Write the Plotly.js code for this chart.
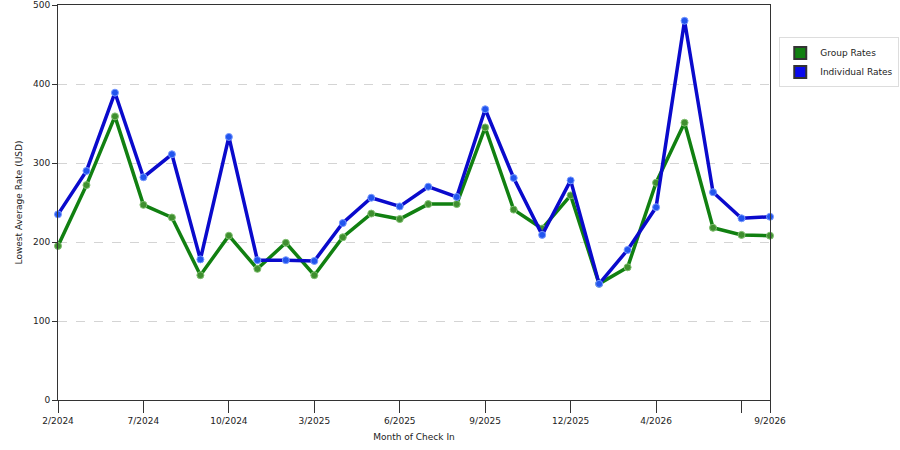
<!DOCTYPE html>
<html>
<head>
<meta charset="utf-8">
<script src="https://cdn.plot.ly/plotly-3.0.1.min.js"></script>
<style>html,body{margin:0;padding:0;background:#fff;}#chart{width:900px;height:450px;}</style>
</head>
<body>
<div id="chart"></div>
<script>
const months = ["2/2024","4/2024","5/2024","7/2024","8/2024","9/2024","10/2024","11/2024","1/2025","3/2025","4/2025","5/2025","6/2025","7/2025","8/2025","9/2025","10/2025","11/2025","12/2025","1/2026","3/2026","4/2026","5/2026","6/2026","8/2026","9/2026"];
const groupRates = [195,272,359,247,231,158,208,166,199,158,206,236,229,248,248,345,241,217,259,147,168,275,351,218,209,208];
const individualRates = [235,290,389,282,311,178,333,177,177,176,224,256,245,270,257,368,281,209,278,147,190,244,480,263,230,232];
const tickMonths = ["2/2024","7/2024","10/2024","3/2025","6/2025","9/2025","12/2025","4/2026","8/2026","9/2026"];
const tickLabels = ["2/2024","7/2024","10/2024","3/2025","6/2025","9/2025","12/2025","4/2026","","9/2026"];
const seriesNames = ["Group Rates","Individual Rates"];

const font = {family: "DejaVu Sans, Verdana, sans-serif", size: 9, color: "#222"};

const traces = [
  {x: months, y: groupRates, type: "scatter", mode: "lines+markers", name: seriesNames[0], showlegend: false,
   line: {color: "#118011", width: 3.5}, cliponaxis: false,
   marker: {size: 7, color: "#3f8f2f", line: {color: "#7fbf6f", width: 1}}},
  {x: months, y: individualRates, type: "scatter", mode: "lines+markers", name: seriesNames[1], showlegend: false,
   line: {color: "#0a0acc", width: 3.5}, cliponaxis: false,
   marker: {size: 7, color: "#2255ee", line: {color: "#7799ff", width: 1}}},
  {x: [null], y: [null], type: "bar", name: seriesNames[0], marker: {color: "#118011", line: {color: "#333", width: 1}}},
  {x: [null], y: [null], type: "bar", name: seriesNames[1], marker: {color: "#0a0aee", line: {color: "#333", width: 1}}}
];

const layout = {
  width: 900, height: 450,
  margin: {l: 58, r: 130, t: 5, b: 50, autoexpand: false},
  paper_bgcolor: "#fff", plot_bgcolor: "#fff",
  font: font,
  showlegend: true,
  legend: {x: 1.013, y: 0.918, xanchor: "left", yanchor: "top", bgcolor: "#fff",
           bordercolor: "#ddd", borderwidth: 1, font: {family: font.family, size: 9, color: "#222"},
           itemsizing: "constant", tracegroupgap: 4},
  xaxis: {
    type: "category", categoryorder: "array", categoryarray: months,
    range: [0, months.length - 1],
    tickmode: "array", tickvals: tickMonths, ticktext: tickLabels,
    ticks: "outside", ticklen: 12, tickcolor: "#333", tickwidth: 1,
    showline: true, linecolor: "#333", linewidth: 1, mirror: true,
    showgrid: false, zeroline: false,
    tickfont: {family: font.family, size: 9, color: "#222"},
    title: {text: "Month of Check In", font: {family: font.family, size: 9, color: "#222"}, standoff: 8}
  },
  yaxis: {
    range: [0, 500], dtick: 100, tick0: 0,
    ticks: "outside", ticklen: 5, tickcolor: "#333",
    showline: true, linecolor: "#333", linewidth: 1, mirror: true,
    showgrid: true, gridcolor: "#d4d4d4", griddash: "dash", gridwidth: 1,
    zeroline: false,
    tickfont: {family: font.family, size: 9, color: "#222"},
    title: {text: "Lowest Average Rate (USD)", font: {family: font.family, size: 9, color: "#222"}, standoff: 8}
  }
};

Plotly.newPlot("chart", traces, layout, {staticPlot: true, displayModeBar: false});
</script>
</body>
</html>
